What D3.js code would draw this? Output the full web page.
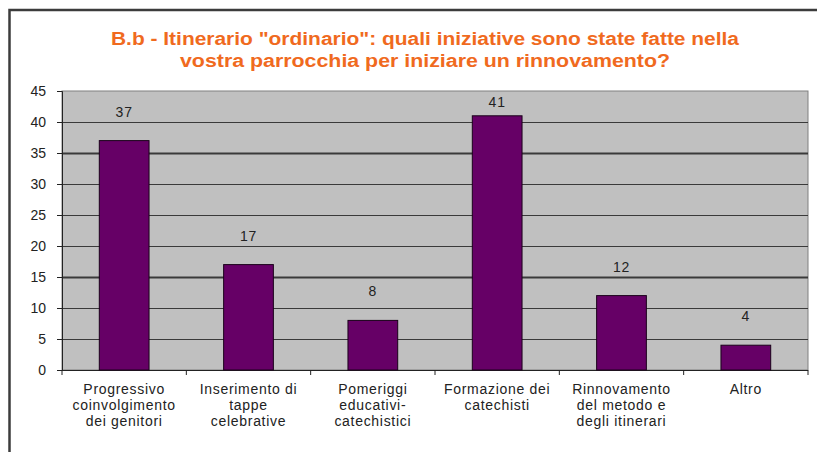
<!DOCTYPE html>
<html><head><meta charset="utf-8">
<script src="https://cdn.jsdelivr.net/npm/d3@7"></script>
<style>body{margin:0;background:#fff;}svg{display:block;}</style>
</head><body>
<script>
const categories = [
  ["Progressivo", "coinvolgimento", "dei genitori"],
  ["Inserimento di", "tappe", "celebrative"],
  ["Pomeriggi", "educativi-", "catechistici"],
  ["Formazione dei", "catechisti"],
  ["Rinnovamento", "del metodo e", "degli itinerari"],
  ["Altro"]
];
const values = [37, 17, 8, 41, 12, 4];
const yTicks = [0, 5, 10, 15, 20, 25, 30, 35, 40, 45];
const titleLines = [
  "B.b - Itinerario \"ordinario\": quali iniziative sono state fatte nella",
  "vostra parrocchia per iniziare un rinnovamento?"
];

const W = 817, H = 452;
const FONT = "Liberation Sans, Arial, sans-serif";
const svg = d3.select("body").append("svg").attr("width", W).attr("height", H);
svg.append("rect").attr("width", W).attr("height", H).attr("fill", "#fff");
// outer border
svg.append("rect").attr("x", 9.5).attr("y", 10).attr("width", W + 20).attr("height", H + 20)
  .attr("fill", "#fff").attr("stroke", "#3c3c3c").attr("stroke-width", 2.5);

const plot = {left: 62, right: 808, top: 91, bottom: 370};
const x = d3.scaleBand().domain(d3.range(categories.length)).range([plot.left, plot.right]).paddingInner(0.6).paddingOuter(0.3);
const xb = d3.scaleBand().domain(d3.range(categories.length)).range([plot.left, plot.right]);
const y = d3.scaleLinear().domain([0, 45]).range([plot.bottom, plot.top]);

// title
const tWidths = [628, 490];
const title = svg.append("g");
titleLines.forEach((t, i) => {
  title.append("text").attr("x", 425).attr("y", 45 + i * 22)
    .attr("text-anchor", "middle")
    .attr("font-family", FONT)
    .attr("font-weight", "bold").attr("font-size", 18)
    .attr("fill", "#f06a1e")
    .attr("textLength", tWidths[i]).attr("lengthAdjust", "spacingAndGlyphs")
    .text(t);
});

// plot background
svg.append("rect").attr("x", plot.left).attr("y", plot.top)
  .attr("width", plot.right - plot.left).attr("height", plot.bottom - plot.top)
  .attr("fill", "#c0c0c0").attr("stroke", "#808080").attr("stroke-width", 1);

// gridlines
svg.append("g").selectAll("line").data(yTicks.filter(d => d > 0 && d < 45)).join("line")
  .attr("x1", plot.left).attr("x2", plot.right)
  .attr("y1", d => Math.round(y(d)) + 0.5).attr("y2", d => Math.round(y(d)) + 0.5)
  .attr("stroke", "#3a3a3a").attr("stroke-width", d => (d === 15 || d === 35) ? 1.8 : 1.2);

// y axis
const yAxis = svg.append("g").attr("transform", `translate(${plot.left},0)`)
  .call(d3.axisLeft(y).tickValues(yTicks).tickSize(5).tickPadding(11).tickFormat(d3.format("d")));
yAxis.select(".domain").attr("stroke", "#222");
yAxis.selectAll(".tick line").attr("stroke", "#222");
yAxis.selectAll("text").attr("font-family", FONT)
  .attr("font-size", 14).attr("fill", "#222");

// x axis
const xAxisG = svg.append("g").attr("transform", `translate(0,${plot.bottom})`);
xAxisG.append("line").attr("x1", plot.left).attr("x2", plot.right).attr("y1", 0.5).attr("y2", 0.5).attr("stroke", "#222");
xAxisG.selectAll("line.tk").data(d3.range(categories.length + 1)).join("line").attr("class", "tk")
  .attr("x1", i => i < categories.length ? xb(i) : plot.right)
  .attr("x2", i => i < categories.length ? xb(i) : plot.right)
  .attr("y1", 0).attr("y2", 5).attr("stroke", "#222");

// bars
svg.append("g").selectAll("rect").data(values).join("rect")
  .attr("x", (d, i) => x(i)).attr("width", x.bandwidth())
  .attr("y", d => y(d)).attr("height", d => plot.bottom - y(d))
  .attr("fill", "#660066").attr("stroke", "#1a001a").attr("stroke-width", 1);

// value labels
svg.append("g").selectAll("text").data(values).join("text")
  .attr("x", (d, i) => xb(i) + xb.bandwidth() / 2)
  .attr("y", d => Math.max(y(d) - 24, plot.top + 16))
  .attr("text-anchor", "middle")
  .attr("font-family", FONT).attr("font-size", 14).attr("letter-spacing", 0.8)
  .attr("fill", "#222")
  .text(d => d);

// category labels
const cl = svg.append("g");
categories.forEach((lines, i) => {
  const cx = xb(i) + xb.bandwidth() / 2;
  const t = cl.append("text").attr("x", cx).attr("y", 394)
    .attr("text-anchor", "middle")
    .attr("font-family", FONT).attr("font-size", 14).attr("letter-spacing", 0.7)
    .attr("fill", "#222");
  lines.forEach((l, j) => {
    t.append("tspan").attr("x", cx).attr("dy", j === 0 ? 0 : 16).text(l);
  });
});
</script>
</body></html>
